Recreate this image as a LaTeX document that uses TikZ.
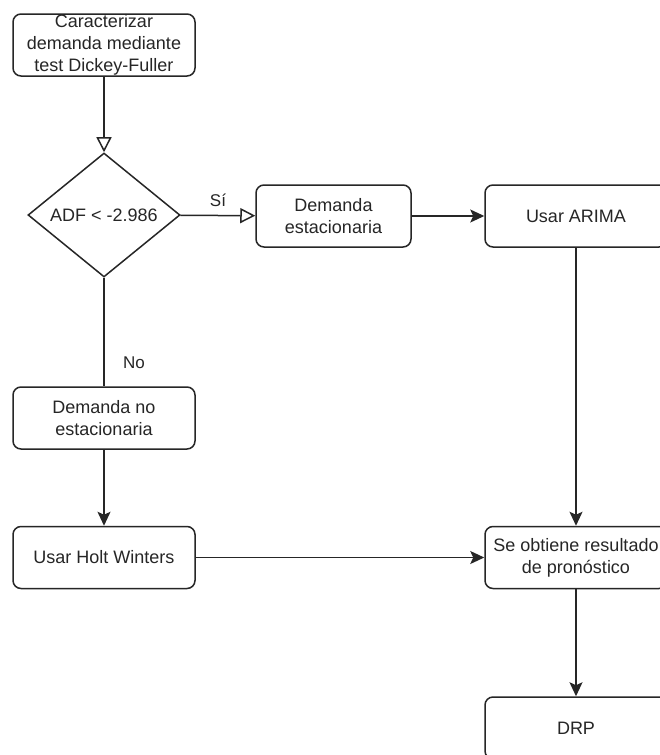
\documentclass[tikz,border=0pt]{standalone}
\usepackage{fontspec}
\setmainfont{Liberation Sans}
\usetikzlibrary{shapes.geometric,arrows.meta}
\definecolor{ink}{HTML}{262626}
\tikzset{
  x=1pt,y=-1pt,
  box/.style={draw=ink,line width=1.5pt,rounded corners=8pt,minimum width=182pt,minimum height=62pt,inner sep=0pt,align=center,text=ink,font=\fontsize{18}{22}\selectfont},
  lbl/.style={text=ink,font=\fontsize{17}{20}\selectfont,inner sep=0pt},
  conn/.style={draw=ink,line width=1.5pt},
  openarr/.style={conn,-{Triangle[open,length=15pt,width=15pt,line width=1.5pt]}},
  fillarr/.style={conn,-{Stealth[length=14pt,width=13pt,inset=3pt]}}
}
\begin{document}
\begin{tikzpicture}
\useasboundingbox (0,0) rectangle (660,755);
\clip (0,0) rectangle (660,755);
\fill[white] (0,0) rectangle (660,755);
\node[box] (b1) at (104,45) {Caracterizar\\demanda mediante\\test Dickey-Fuller};
\node[draw=ink,line width=1.5pt,shape=diamond,minimum width=152pt,minimum height=124pt,inner sep=0pt] (d) at (104,215) {};
\node[lbl,font=\fontsize{18}{21}\selectfont] (dt) at (d.center) {ADF < -2.986};
\node[box,minimum width=155pt] (b2) at (333.5,216) {Demanda\\estacionaria};
\node[box] (b3) at (576,216) {Usar ARIMA};
\node[box] (b4) at (104,418) {Demanda no\\estacionaria};
\node[box] (b5) at (104,557.5) {Usar Holt Winters};
\node[box] (b6) at (576,557.5) {Se obtiene resultado\\de pronóstico};
\node[box] (b7) at (576,728) {DRP};
\node[lbl] (si) at (218,200) {Sí};
\node[lbl] (no) at (134,363) {No};
\draw[openarr] (b1) -- (d);
\draw[openarr] (d) -- (b2);
\draw[fillarr] (b2) -- (b3);
\draw[fillarr] (b3) -- (b6);
\draw[conn] (d) -- (b4);
\draw[fillarr] (b4) -- (b5);
\draw[fillarr] (b5) -- (b6);
\draw[fillarr] (b6) -- (b7);
\end{tikzpicture}
\end{document}
